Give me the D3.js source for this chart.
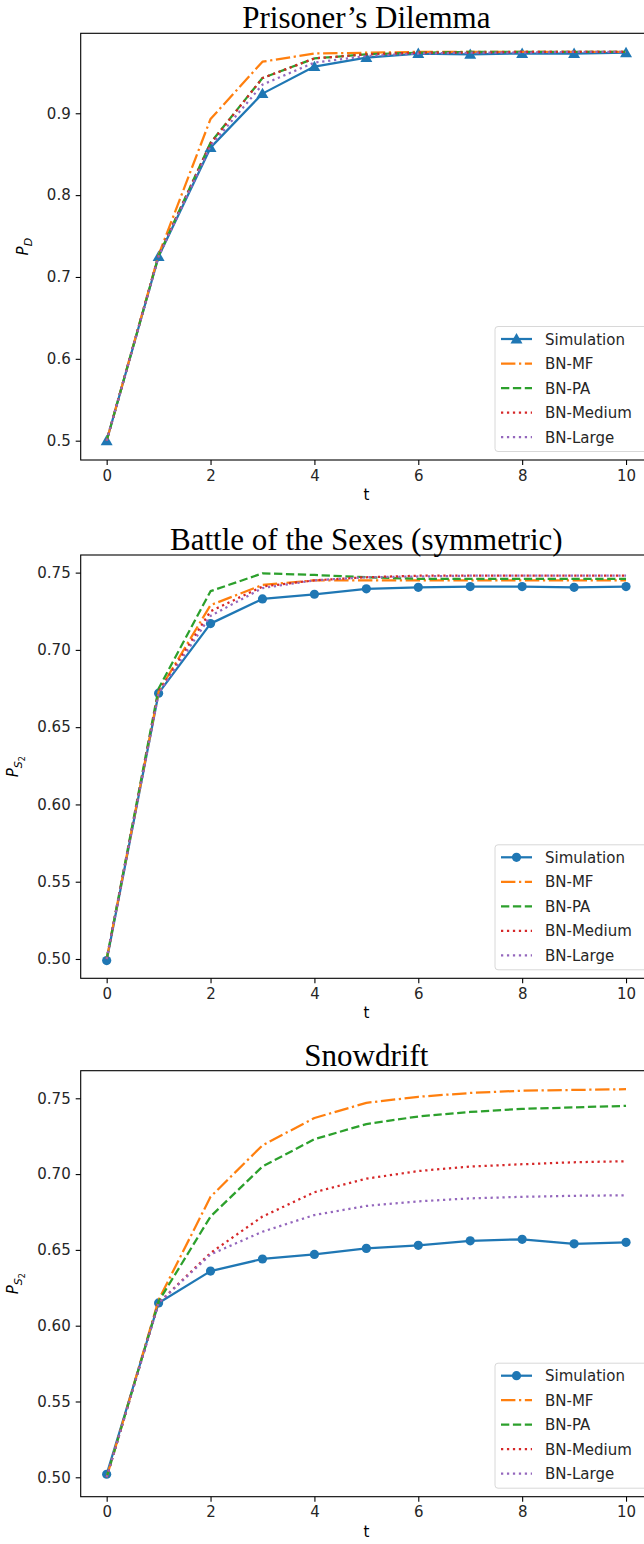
<!DOCTYPE html>
<html>
<head>
<meta charset="utf-8">
<script src="https://cdn.jsdelivr.net/npm/d3@7"></script>
<style>
  body { margin: 0; background: #fff; }
  svg { display: block; }
  text { font-family: "DejaVu Sans", sans-serif; }
</style>
</head>
<body>
<svg width="644" height="1544"></svg>
<script>
// time steps
var steps = [0, 1, 2, 3, 4, 5, 6, 7, 8, 9, 10];
var seriesNames = ["Simulation", "BN-MF", "BN-PA", "BN-Medium", "BN-Large"];

// prisoner's dilemma, P_D
var pdSim    = [0.500, 0.725, 0.858, 0.924, 0.957, 0.968, 0.973, 0.972, 0.973, 0.973, 0.974];
var pdMF     = [0.500, 0.727, 0.893, 0.963, 0.973, 0.974, 0.975, 0.975, 0.975, 0.975, 0.975];
var pdPA     = [0.500, 0.726, 0.864, 0.943, 0.967, 0.972, 0.974, 0.975, 0.975, 0.975, 0.975];
var pdMedium = [0.500, 0.726, 0.863, 0.943, 0.967, 0.972, 0.974, 0.974, 0.975, 0.975, 0.975];
var pdLarge  = [0.500, 0.725, 0.860, 0.935, 0.962, 0.970, 0.973, 0.974, 0.974, 0.975, 0.975];

// battle of the sexes, P_S2
var bosSim    = [0.499, 0.672, 0.717, 0.733, 0.736, 0.7395, 0.7405, 0.741, 0.741, 0.7405, 0.741];
var bosMF     = [0.500, 0.673, 0.729, 0.742, 0.745, 0.745, 0.745, 0.745, 0.745, 0.745, 0.745];
var bosPA     = [0.500, 0.675, 0.738, 0.7495, 0.7485, 0.747, 0.746, 0.746, 0.746, 0.746, 0.746];
var bosMedium = [0.500, 0.673, 0.725, 0.741, 0.745, 0.747, 0.748, 0.748, 0.748, 0.748, 0.748];
var bosLarge  = [0.500, 0.672, 0.722, 0.740, 0.745, 0.747, 0.7475, 0.748, 0.748, 0.748, 0.748];

// snowdrift, P_S2
var sdSim    = [0.502, 0.615, 0.636, 0.644, 0.647, 0.651, 0.653, 0.656, 0.657, 0.654, 0.655];
var sdMF     = [0.500, 0.617, 0.685, 0.719, 0.737, 0.747, 0.751, 0.7535, 0.755, 0.7555, 0.756];
var sdPA     = [0.500, 0.616, 0.672, 0.705, 0.723, 0.733, 0.738, 0.741, 0.743, 0.744, 0.745];
var sdMedium = [0.500, 0.615, 0.648, 0.672, 0.688, 0.697, 0.702, 0.705, 0.7065, 0.7078, 0.7085];
var sdLarge  = [0.500, 0.615, 0.647, 0.662, 0.673, 0.679, 0.682, 0.684, 0.685, 0.6857, 0.686];

var xTicks = [0, 2, 4, 6, 8, 10];
var pdTicks = [0.5, 0.6, 0.7, 0.8, 0.9];
var s2Ticks = [0.50, 0.55, 0.60, 0.65, 0.70, 0.75];

var svg = d3.select("svg");

var colors = ["#1f77b4", "#ff7f0e", "#2ca02c", "#d62728", "#9467bd"];
var dashes = [null, "14.4,3.6,2.25,3.6", "8.3,3.6", "2.25,3.7", "2.25,3.7"];

var panels = [
  {title: "Prisoner\u2019s Dilemma", top: 33.3, bottom: 460, ydom: [0.4764, 0.9977],
   ticks: pdTicks, fmt: d3.format(".1f"), sub: "D", marker: "tri", labx: 28,
   data: [pdSim, pdMF, pdPA, pdMedium, pdLarge]},
  {title: "Battle of the Sexes (symmetric)", top: 555, bottom: 978.3, ydom: [0.4875, 0.7614],
   ticks: s2Ticks, fmt: d3.format(".2f"), sub: "S2", marker: "circ", labx: 18,
   data: [bosSim, bosMF, bosPA, bosMedium, bosLarge]},
  {title: "Snowdrift", top: 1070.7, bottom: 1496.7, ydom: [0.4872, 0.7682],
   ticks: s2Ticks, fmt: d3.format(".2f"), sub: "S2", marker: "circ", labx: 18,
   data: [sdSim, sdMF, sdPA, sdMedium, sdLarge]}
];

var left = 80.7, right = 652;

var x = d3.scaleLinear().domain([-0.5, 10.5]).range([left, right]);

var triangle = d3.symbol().type(d3.symbolTriangle).size(62);

panels.forEach(function(p) {
  var y = d3.scaleLinear().domain(p.ydom).range([p.bottom, p.top]);
  var g = svg.append("g");

  // title
  g.append("text")
    .attr("x", (left + right) / 2)
    .attr("y", p.top - 5)
    .attr("text-anchor", "middle")
    .style("font-family", "'Liberation Serif', 'Times New Roman', serif")
    .style("font-size", "31px")
    .text(p.title);

  // lines
  var line = d3.line()
    .x(function(d, i) { return x(steps[i]); })
    .y(function(d) { return y(d); });

  p.data.forEach(function(vals, k) {
    var path = g.append("path")
      .datum(vals)
      .attr("d", line)
      .attr("fill", "none")
      .attr("stroke", colors[k])
      .attr("stroke-width", 2.25)
      .attr("stroke-linejoin", "round");
    if (dashes[k]) path.attr("stroke-dasharray", dashes[k]);
    if (k == 0) {
      if (p.marker == "tri") {
        g.selectAll(".mk").data(vals).enter().append("path")
          .attr("d", triangle)
          .attr("transform", function(d, i) { return "translate(" + x(steps[i]) + "," + (y(d) + 1) + ")"; })
          .attr("fill", colors[0]);
      } else {
        g.selectAll(".mk").data(vals).enter().append("circle")
          .attr("cx", function(d, i) { return x(steps[i]); })
          .attr("cy", function(d) { return y(d); })
          .attr("r", 4.6)
          .attr("fill", colors[0]);
      }
    }
  });

  // axes
  var xAxis = d3.axisBottom(x).tickValues(xTicks).tickSize(5).tickPadding(5).tickSizeOuter(0);
  var yAxis = d3.axisLeft(y).tickValues(p.ticks).tickFormat(p.fmt).tickSize(5).tickPadding(5).tickSizeOuter(0);

  var gx = g.append("g").attr("transform", "translate(0," + p.bottom + ")").call(xAxis);
  var gy = g.append("g").attr("transform", "translate(" + left + ",0)").call(yAxis);
  [gx, gy].forEach(function(a) {
    a.select(".domain").remove();
    a.selectAll("line").attr("stroke", "#000").attr("stroke-width", 1.1);
    a.selectAll("text").style("font-size", "15px").attr("fill", "#262626")
      .style("font-family", "'DejaVu Sans', sans-serif");
  });

  // frame
  g.append("rect")
    .attr("x", left).attr("y", p.top)
    .attr("width", right - left).attr("height", p.bottom - p.top)
    .attr("fill", "none").attr("stroke", "#000").attr("stroke-width", 1.1);

  // axis labels
  g.append("text")
    .attr("x", (left + right) / 2)
    .attr("y", p.bottom + 40)
    .attr("text-anchor", "middle")
    .style("font-size", "15px")
    .text("t");

  var yl = g.append("text")
    .attr("transform", "translate(" + p.labx + "," + ((p.top + p.bottom) / 2) + ") rotate(-90)")
    .attr("text-anchor", "middle")
    .style("font-size", "15px")
    .style("font-style", "italic");
  yl.append("tspan").text("P");
  if (p.sub == "D") {
    yl.append("tspan").attr("dy", 4).style("font-size", "11px").text("D");
  } else {
    yl.append("tspan").attr("dy", 4).style("font-size", "11px").text("S");
    yl.append("tspan").attr("dy", 3).style("font-size", "8px").style("font-style", "normal").text("2");
  }

  // legend, lower right
  var lgBottom = p.bottom - 8.5, lgTop = lgBottom - 125, lgLeft = 495;
  var lg = g.append("g");
  lg.append("rect")
    .attr("x", lgLeft).attr("y", lgTop)
    .attr("width", 160).attr("height", lgBottom - lgTop)
    .attr("rx", 3)
    .attr("fill", "#fff").attr("fill-opacity", 0.8)
    .attr("stroke", "#d8d8d8").attr("stroke-width", 1);

  seriesNames.forEach(function(name, k) {
    var ry = lgTop + 12.5 + k * 24.5;
    var hl = lg.append("line")
      .attr("x1", lgLeft + 6).attr("x2", lgLeft + 37)
      .attr("y1", ry).attr("y2", ry)
      .attr("stroke", colors[k]).attr("stroke-width", 2.25);
    if (dashes[k]) hl.attr("stroke-dasharray", dashes[k]);
    if (k == 0) {
      if (p.marker == "tri") {
        lg.append("path").attr("d", triangle)
          .attr("transform", "translate(" + (lgLeft + 21.5) + "," + (ry + 1) + ")")
          .attr("fill", colors[0]);
      } else {
        lg.append("circle").attr("cx", lgLeft + 21.5).attr("cy", ry).attr("r", 4.6).attr("fill", colors[0]);
      }
    }
    lg.append("text")
      .attr("x", lgLeft + 50)
      .attr("y", ry + 5.5)
      .style("font-size", "15px")
      .attr("fill", "#262626")
      .text(name);
  });
});
</script>
</body>
</html>
